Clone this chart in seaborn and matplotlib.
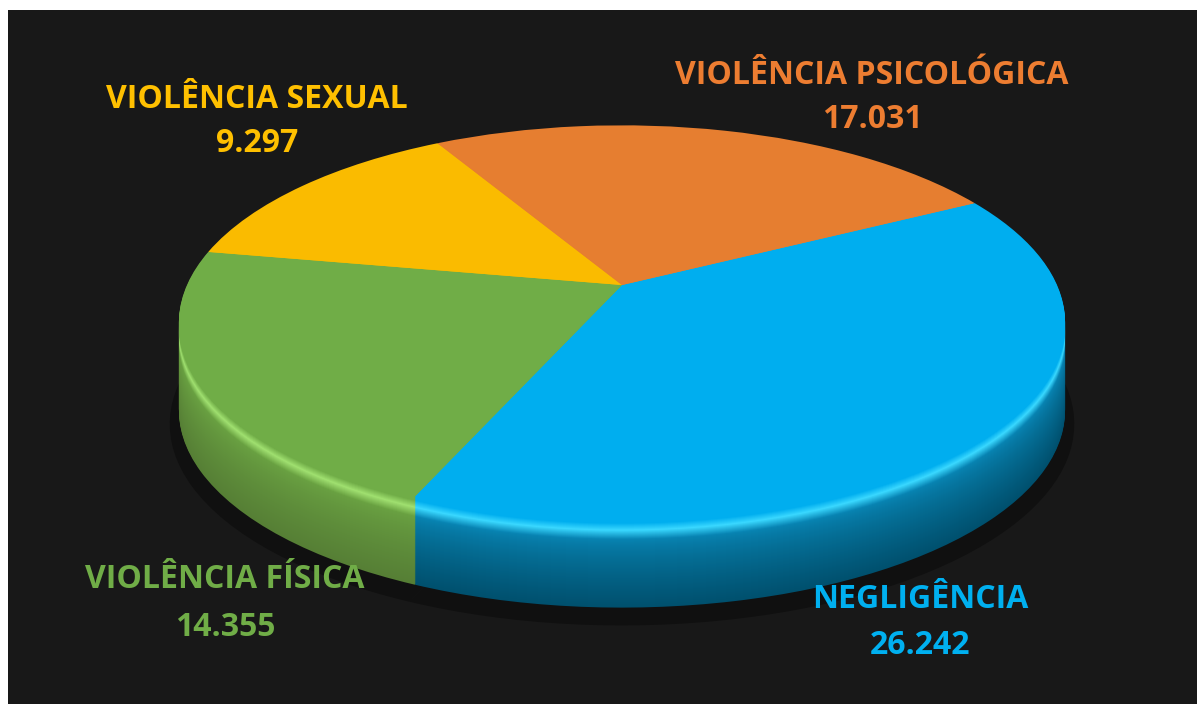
import numpy as np
import matplotlib.pyplot as plt
import matplotlib.colors as mcolors
import matplotlib.transforms as mtransforms
import seaborn as sns

# data
labels = ['NEGLIGÊNCIA', 'VIOLÊNCIA FÍSICA', 'VIOLÊNCIA SEXUAL', 'VIOLÊNCIA PSICOLÓGICA']
values = [26242, 14355, 9297, 17031]
value_labels = ['26.242', '14.355', '9.297', '17.031']
top_colors = ['#00AEEF', '#70AD47', '#FABB00', '#E67E30']
rim_colors = ['#3AD8FF', '#A0E070', '#FFD84A', '#FFA060']
side_top_colors = ['#0885B4', '#6AA242', '#D9A200', '#C86A26']
side_bottom_colors = ['#00506E', '#567F35', '#A67C00', '#94501C']
text_colors = ['#00B0F0', '#70AD47', '#FFC000', '#ED7D31']


class Perspective(mtransforms.Transform):
    """tilted disc: unit pie coords -> pixel coords (y down)"""
    input_dims = 2
    output_dims = 2
    is_separable = False
    has_inverse = False

    def __init__(self, off=0.0, cx=622, cy=285, a=435, b=190, k=0.19):
        super().__init__()
        self.off, self.cx, self.cy, self.a, self.b, self.k = off, cx, cy, a, b, k

    def transform_non_affine(self, xy):
        xy = np.asarray(xy, dtype=float)
        u, v = xy[:, 0], xy[:, 1]
        w = 1 + self.k * v
        return np.column_stack([self.cx + self.a * u / w,
                                self.cy - self.b * v / w + self.off])


def mix(c1, c2, t):
    c1 = np.array(mcolors.to_rgb(c1))
    c2 = np.array(mcolors.to_rgb(c2))
    return tuple(c1 + (c2 - c1) * t)


def draw_disc(ax, off, colors, radius=1.0, alpha=1.0):
    wedges, _ = ax.pie(values, radius=radius, startangle=28, counterclock=False,
                       colors=colors, wedgeprops=dict(linewidth=0, alpha=alpha))
    tr = Perspective(off) + ax.transData
    for w in wedges:
        w.set_transform(tr)


sns.set_theme(style='dark')
plt.rcParams['font.family'] = ['Open Sans', 'DejaVu Sans']

fig = plt.figure(figsize=(11.97, 7.04), dpi=100, facecolor='white')
# dark panel = axes area (white strip left and on top)
ax = fig.add_axes([8 / 1197, 0, 1 - 8 / 1197, 694 / 704])

# faint shadow under the disc
draw_disc(ax, 100, ['#101010'] * 4, radius=1.02)

# side of the disc, stacked layers from bottom to top
depth = 88
for off in range(depth, 0, -1):
    if off <= 4:
        cols = top_colors
    elif off <= 11:
        t = (off - 4) / 7
        cols = [mix(c, r, t) for c, r in zip(top_colors, rim_colors)]
    elif off <= 20:
        t = (off - 11) / 9
        cols = [mix(r, s, t) for r, s in zip(rim_colors, side_top_colors)]
    else:
        t = (off - 20) / (depth - 20)
        cols = [mix(s, d, t ** 0.7) for s, d in zip(side_top_colors, side_bottom_colors)]
    draw_disc(ax, off, cols)

# top face
draw_disc(ax, 0, top_colors)

ax.set_aspect('auto')
ax.set_xlim(8, 1197)
ax.set_ylim(704, 10)
ax.set_facecolor('#181818')
ax.set_frame_on(True)
for sp in ax.spines.values():
    sp.set_visible(False)
ax.set_xticks([])
ax.set_yticks([])
ax.grid(False)

# labels
label_pos = [(920, 600, 645), (225, 580, 627), (257, 99, 143), (872, 75, 120)]
for (x, y1, y2), lab, val, col in zip(label_pos, labels, value_labels, text_colors):
    fig.text(x / 1197, 1 - y1 / 704, lab, color=col, fontsize=23,
             fontweight='bold', ha='center', va='center')
    fig.text(x / 1197, 1 - y2 / 704, val, color=col, fontsize=23,
             fontweight='bold', ha='center', va='center')

fig.savefig('out.png', dpi=100, facecolor='white')
